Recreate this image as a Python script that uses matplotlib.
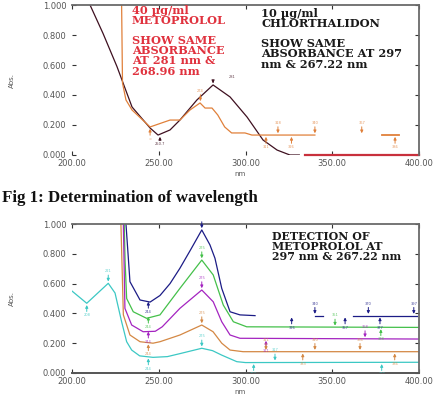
import matplotlib
matplotlib.use("Agg")
import matplotlib.pyplot as plt
import numpy as np

W, H = 444, 394
fig = plt.figure(figsize=(W / 100, H / 100), dpi=100)

# ---------------- data: top panel ----------------
ctd_lam = [208, 210.4, 217.9, 225.9, 234.6, 245, 249.6, 256.5, 262.2, 272.0, 281.3,
           291.1, 300.9, 310.1, 318.2, 325.6, 331]
ctd_abs = [1.15, 1.0, 0.81, 0.59, 0.32, 0.18, 0.133, 0.167, 0.233, 0.367, 0.467,
           0.387, 0.253, 0.10, 0.033, 0.0, 0.0]

met_lam = [228.3, 228.6, 229.1, 231.1, 234.6, 245, 256.5, 262.2, 268, 273.8, 276.7,
           280.7, 284.0, 288.0, 292.0, 299.7, 303.7, 340]
met_abs = [1.2, 1.0, 0.48, 0.367, 0.30, 0.187, 0.233, 0.233, 0.30, 0.347, 0.313,
           0.313, 0.267, 0.187, 0.147, 0.147, 0.133, 0.133]
met2_lam = [378.7, 388.5]
met2_abs = [0.133, 0.133]

base_lam = [334.3, 400]
base_abs = [0.0, 0.0]

# peak-pick markers (wavelength, absorbance, side, label)
top_ctd_marks = [(250.7, 0.133, "below", "250.7"), (281.3, 0.467, "above", "281")]
top_met_marks = [(245.0, 0.187, "below", "="), (274.0, 0.347, "above", "274"),
                 (311.8, 0.133, "below", "311"), (318.7, 0.133, "above", "318"),
                 (326.5, 0.133, "below", "326"), (340.0, 0.133, "above", "340"),
                 (367.0, 0.133, "above", "367"), (386.2, 0.133, "below", "386")]

# ---------------- data: bottom panel ----------------
navy_lam = [230.5, 231.1, 232.3, 233.4, 239.2, 245, 250.7, 256.5, 262.2, 268.5, 274.8,
            279.5, 282.4, 286.3, 291.1, 296.8, 305.5]
navy_abs = [1.2, 1.0, 0.8, 0.613, 0.49, 0.476, 0.52, 0.60, 0.703, 0.83, 0.96,
            0.86, 0.77, 0.568, 0.411, 0.39, 0.385]
navy_seg2_lam = [340, 344.7]
navy_seg3_lam = [362, 399]
navy_flat = 0.385

green_lam = [229.5, 230.1, 230.6, 231.5, 235.3, 243, 250.7, 262.2, 274.8, 281.4, 287.2,
             293.0, 300.7, 400]
green_abs = [1.2, 1.0, 0.75, 0.5, 0.411, 0.367, 0.39, 0.568, 0.758, 0.658, 0.456,
             0.344, 0.31, 0.306]

mag_lam = [229.0, 229.6, 230.5, 234.4, 241, 248, 252, 262.2, 274.8, 281.4, 286.3,
           291.1, 296.8, 400]
mag_abs = [1.2, 1.0, 0.434, 0.322, 0.277, 0.28, 0.31, 0.434, 0.557, 0.478, 0.344,
           0.255, 0.233, 0.228]

org_lam = [227.8, 228.2, 229.6, 233.4, 239.2, 246.7, 250.7, 262.2, 274.8, 281.3, 286.3,
           291.1, 298.6, 400]
org_abs = [1.2, 1.0, 0.39, 0.255, 0.21, 0.20, 0.21, 0.255, 0.322, 0.277, 0.20,
           0.154, 0.143, 0.143]

cyan_lam = [200, 208.5, 220.9, 224.8, 228.6, 231.5, 234.4, 239, 246.7, 255, 262.2,
            274.8, 281, 286.3, 295, 300, 400]
cyan_abs = [0.55, 0.468, 0.602, 0.537, 0.344, 0.21, 0.154, 0.115, 0.105, 0.11, 0.13,
            0.166, 0.15, 0.12, 0.076, 0.07, 0.072]

bot_marks = {
    "navy": [(244, 0.49, "below", "244"), (274.8, 0.96, "above", "275"),
             (326.6, 0.385, "below", "326"), (340, 0.385, "above", "340"),
             (357.4, 0.385, "below", "357"), (370.8, 0.385, "above", "370"),
             (377.5, 0.385, "below", "377"), (397, 0.385, "above", "397")],
    "green": [(244, 0.39, "below", "244"), (274.8, 0.758, "above", "275"),
              (351.6, 0.306, "above", "351"), (378, 0.306, "below", "378")],
    "mag": [(244, 0.29, "below", "244"), (274.8, 0.557, "above", "275"),
            (311.8, 0.228, "below", "311"), (368.9, 0.228, "above", "368")],
    "org": [(244, 0.205, "below", "244"), (274.8, 0.322, "above", "275"),
            (311.8, 0.143, "above", "311"), (333, 0.143, "below", "333"),
            (340, 0.143, "above", "340"), (366, 0.143, "above", "366"),
            (386, 0.143, "below", "386")],
    "cyan": [(244, 0.11, "below", "244"), (274.8, 0.166, "above", "275"),
             (208.5, 0.468, "below", "208"), (220.9, 0.602, "above", "221"),
             (304.7, 0.072, "below", "304"), (317, 0.072, "above", "317"),
             (378.5, 0.072, "below", "378")],
}

xticks = [200, 250, 300, 350, 400]
xtick_labels = ["200.00", "250.00", "300.00", "350.00", "400.00"]
yticks = [0.0, 0.2, 0.4, 0.6, 0.8, 1.0]
ytick_labels = ["0.000", "0.200", "0.400", "0.600", "0.800", "1.000"]

COL = {"ctd": "#3e1020", "met": "#e0803a", "base": "#c8303c",
       "navy": "#1c1c86", "green": "#44c04a", "mag": "#a424c0",
       "org": "#d48844", "cyan": "#3cc8c4"}


def style_axes(ax, bottom_spine):
    ax.set_xlim(200, 400)
    ax.set_ylim(0, 1.0)
    ax.set_xticks(xticks)
    ax.set_xticklabels(xtick_labels)
    ax.set_yticks(yticks)
    ax.set_yticklabels(ytick_labels)
    ax.tick_params(direction="in", length=3, width=0.8, labelsize=6,
                   labelcolor="#555555", color="#333333", pad=3,
                   top=True, right=True)
    ax.tick_params(axis="y", pad=4)
    for s in ["top", "right"]:
        ax.spines[s].set_color("#6a6a6a")
        ax.spines[s].set_linewidth(1.3)
    ax.spines["left"].set_visible(False)
    if bottom_spine:
        ax.spines["bottom"].set_color("#555555")
        ax.spines["bottom"].set_linewidth(1.4)
    else:
        ax.spines["bottom"].set_visible(False)
    ax.set_ylabel("Abs.", fontsize=5, color="#555555")
    ax.yaxis.set_label_coords(-57 / 347, 0.5)
    ax.set_xlabel("nm", fontsize=5, color="#555555")
    ax.xaxis.set_label_coords((240 - 72) / 347, -0.105)


def mark(ax, lam, a, side, color, label, off=0.08, dx=0.0):
    s = 1 if side == "above" else -1
    ax.annotate("", xy=(lam, a + s * 0.012), xytext=(lam, a + s * (off - 0.025)),
                arrowprops=dict(arrowstyle="-|>", color=color, lw=0.7,
                                mutation_scale=4, shrinkA=0, shrinkB=0),
                annotation_clip=True)
    ax.text(lam + dx, a + s * off, label, fontsize=2.6, color=color, alpha=0.8,
            ha="center", va="center", clip_on=True)


# ---------------- top panel ----------------
ax1 = fig.add_axes([72 / W, 1 - 155 / H, 347 / W, 150 / H])
style_axes(ax1, bottom_spine=False)
ax1.plot(ctd_lam, ctd_abs, color=COL["ctd"], lw=0.9)
ax1.plot(met_lam, met_abs, color=COL["met"], lw=0.9)
ax1.plot(met2_lam, met2_abs, color=COL["met"], lw=1.3)
ax1.plot(base_lam, base_abs, color=COL["base"], lw=1.6, clip_on=False)
for lam, a, side, lab in top_ctd_marks:
    if side == "above":
        mark(ax1, lam, a, side, COL["ctd"], lab, off=0.05, dx=11)
    else:
        mark(ax1, lam, a, side, COL["ctd"], lab, off=0.062)
for lam, a, side, lab in top_met_marks:
    mark(ax1, lam, a, side, COL["met"], lab)

serif = ["DejaVu Serif"]
fig.text(132 / W, 1 - 5 / H,
         "40 \u00b5g/ml\nMETOPROLOL\n\nSHOW SAME\nABSORBANCE\nAT 281 nm &\n268.96 nm",
         color="#e0323e", fontsize=8.2, fontweight="bold", family=serif,
         ha="left", va="top", linespacing=0.9)
fig.text(261 / W, 1 - 8 / H,
         "10 \u00b5g/ml\nCHLORTHALIDON\n\nSHOW SAME\nABSORBANCE AT 297\nnm & 267.22 nm",
         color="#1a1a1a", fontsize=8.2, fontweight="bold", family=serif,
         ha="left", va="top", linespacing=0.9)

# ---------------- caption ----------------
fig.text(2 / W, 1 - 198 / H, "Fig 1: Determination of wavelength",
         fontsize=12.2, fontweight="bold", family=["Liberation Serif"],
         ha="left", va="center", color="#111111")

# ---------------- bottom panel ----------------
ax2 = fig.add_axes([72 / W, 1 - 373 / H, 347 / W, 149 / H])
style_axes(ax2, bottom_spine=True)
ax2.plot(navy_lam, navy_abs, color=COL["navy"], lw=0.9)
ax2.plot(navy_seg2_lam, [navy_flat] * 2, color=COL["navy"], lw=0.9)
ax2.plot(navy_seg3_lam, [navy_flat] * 2, color=COL["navy"], lw=0.9)
ax2.plot(green_lam, green_abs, color=COL["green"], lw=0.9)
ax2.plot(mag_lam, mag_abs, color=COL["mag"], lw=0.9)
ax2.plot(org_lam, org_abs, color=COL["org"], lw=0.9)
ax2.plot(cyan_lam, cyan_abs, color=COL["cyan"], lw=0.9)
for key, lst in bot_marks.items():
    for lam, a, side, lab in lst:
        mark(ax2, lam, a, side, COL[key], lab)

fig.text(272 / W, 1 - 231 / H,
         "DETECTION OF\nMETOPROLOL AT\n297 nm & 267.22 nm",
         color="#1a1a1a", fontsize=7.9, fontweight="bold", family=serif,
         ha="left", va="top", linespacing=0.9)

fig.savefig("out.png", dpi=100)
